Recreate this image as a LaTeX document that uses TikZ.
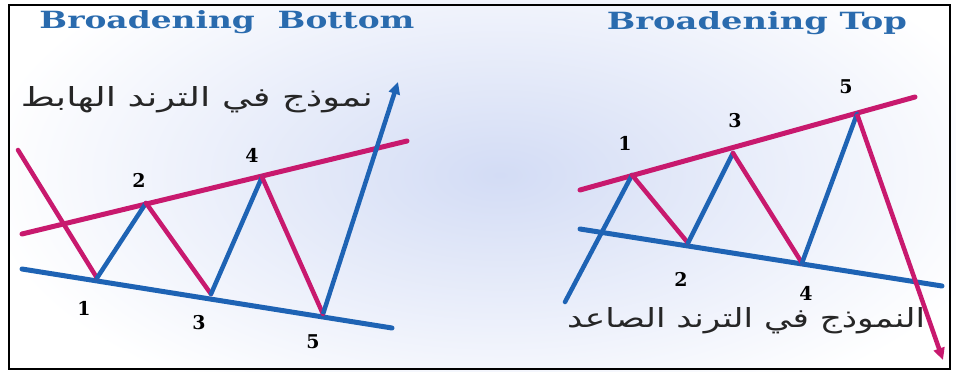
\documentclass[tikz,border=0pt]{standalone}
\usepackage{fontspec}
\setmainfont{DejaVu Serif}
\newfontfamily\arabicfont[Script=Arabic]{DejaVu Sans}
\TeXXeTstate=1
\usetikzlibrary{arrows.meta}
\definecolor{mag}{HTML}{C8196E}
\definecolor{blu}{HTML}{1E63B4}
\definecolor{ttl}{HTML}{2A6BAE}
\definecolor{lav}{HTML}{D3DCF5}
\begin{document}
\begin{tikzpicture}[x=1pt,y=-1pt,
  trend/.style={line width=5pt,line cap=round},
  upleg/.style={blu,line width=4.5pt,line cap=round},
  downleg/.style={mag,line width=4.5pt,line cap=round},
  tip/.style={-{Triangle[length=12pt,width=11pt]}},
  num/.style={font=\fontsize{19}{19}\selectfont\bfseries,text=black,inner sep=0pt},
  ttlnode/.style={text=ttl,inner sep=0pt},
  artext/.style={text=black!85,inner sep=0pt}]
\useasboundingbox (0,0) rectangle (956,372);
\fill[white] (0,0) rectangle (956,372);
\shade[inner color=lav,outer color=white] (500,175) ellipse (520 and 260);
\draw[black,line width=1.5pt] (9,5) rectangle (950,369);

% titles
\node[ttlnode] (t1) at (227,22) {\resizebox{375pt}{18pt}{\bfseries Broadening\ \ Bottom}};
\node[ttlnode] (t2) at (757,23) {\resizebox{300pt}{18pt}{\bfseries Broadening Top}};

% ---------- left: broadening bottom ----------
\coordinate (Ls) at (18,150);
\coordinate (L1) at (97,278);
\coordinate (L2) at (146,203);
\coordinate (L3) at (211,294);
\coordinate (L4) at (262,177);
\coordinate (L5) at (323,314);
\coordinate (Le) at (398,82);
\coordinate (LUa) at (22,234);
\coordinate (LUb) at (407,141);
\coordinate (LLa) at (22,269);
\coordinate (LLb) at (392,328);
\draw[trend,mag] (LUa) -- (LUb);
\draw[trend,blu] (LLa) -- (LLb);
\draw[downleg] (Ls) -- (L1);
\draw[upleg] (L1) -- (L2);
\draw[downleg] (L2) -- (L3);
\draw[upleg] (L3) -- (L4);
\draw[downleg] (L4) -- (L5);
\draw[upleg,tip,line cap=butt] (L5) -- (Le);
\node[num] (n1) at (84,308) {1};
\node[num] (n2) at (139,180) {2};
\node[num] (n3) at (199,323) {3};
\node[num] (n4) at (252,155) {4};
\node[num] (n5) at (313,342) {5};
\node[artext] (a1) at (197,100) {\resizebox{352pt}{20pt}{\arabicfont\beginR نموذج في الترند الهابط\endR}};

% ---------- right: broadening top ----------
\coordinate (Rs) at (565,302);
\coordinate (R1) at (632,175);
\coordinate (R2) at (688,243);
\coordinate (R3) at (733,153);
\coordinate (R4) at (802,263);
\coordinate (R5) at (857,114);
\coordinate (Re) at (943,360);
\coordinate (RUa) at (580,190);
\coordinate (RUb) at (915,97);
\coordinate (RLa) at (580,229);
\coordinate (RLb) at (942,286);
\draw[trend,mag] (RUa) -- (RUb);
\draw[trend,blu] (RLa) -- (RLb);
\draw[upleg] (Rs) -- (R1);
\draw[downleg] (R1) -- (R2);
\draw[upleg] (R2) -- (R3);
\draw[downleg] (R3) -- (R4);
\draw[upleg] (R4) -- (R5);
\draw[downleg,tip,line cap=butt] (R5) -- (Re);
\node[num] (m1) at (625,143) {1};
\node[num] (m2) at (681,279) {2};
\node[num] (m3) at (735,121) {3};
\node[num] (m4) at (806,293) {4};
\node[num] (m5) at (846,87) {5};
\node[artext] (a2) at (746,321) {\resizebox{358pt}{20pt}{\arabicfont\beginR النموذج في الترند الصاعد\endR}};
\end{tikzpicture}
\end{document}
